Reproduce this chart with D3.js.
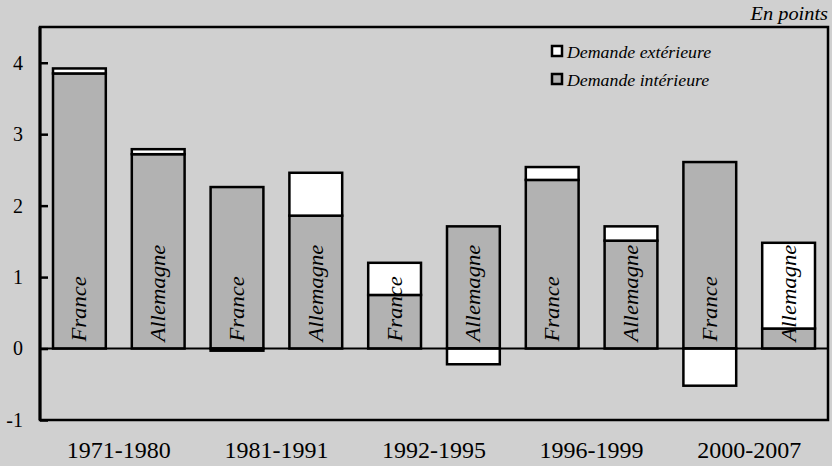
<!DOCTYPE html>
<html><head><meta charset="utf-8">
<script src="https://cdn.jsdelivr.net/npm/d3@7"></script>
<style>
body{margin:0;background:#d0d0d0;}
svg{display:block;}
text{font-family:"Liberation Serif","Times New Roman",serif;fill:#000;}
</style></head>
<body><div id="chart"></div>
<script>
const periods = ["1971-1980","1981-1991","1992-1995","1996-1999","2000-2007"];
const countries = ["France","Allemagne","France","Allemagne","France","Allemagne","France","Allemagne","France","Allemagne"];
const interieure = [3.85, 2.72, 2.26, 1.86, 0.75, 1.71, 2.36, 1.51, 2.61, 0.28];
const exterieure = [0.07, 0.07, -0.03, 0.60, 0.45, -0.22, 0.18, 0.20, -0.52, 1.20];
const yTicks = [-1, 0, 1, 2, 3, 4];
const legendLabels = ["Demande extérieure", "Demande intérieure"];
const unitLabel = "En points";

const W = 832, H = 466;
const m = {left:40, top:27, right:4, bottom:46};
const svg = d3.select("#chart").append("svg").attr("width", W).attr("height", H);
svg.append("rect").attr("width", W).attr("height", H).attr("fill", "#d0d0d0");

const idx = d3.range(countries.length);
const x = d3.scaleBand().domain(idx).range([m.left, W - m.right]).paddingInner(0.33).paddingOuter(0.165);
const y = d3.scaleLinear().domain([-1, 4.5]).range([H - m.bottom, m.top]);

const GREY = "#b2b2b2";
// frame
svg.append("rect").attr("x", m.left).attr("y", m.top)
  .attr("width", W - m.right - m.left).attr("height", y(-1) - m.top)
  .attr("fill", "none").attr("stroke", "#000").attr("stroke-width", 2.5);

// bars
const g = svg.append("g");
idx.forEach(i => {
  const vi = interieure[i], ve = exterieure[i];
  const i0 = 0, i1 = vi;
  g.append("rect").attr("x", x(i)).attr("width", x.bandwidth())
    .attr("y", y(Math.max(i0, i1))).attr("height", Math.abs(y(i0) - y(i1)))
    .attr("fill", GREY).attr("stroke", "#000").attr("stroke-width", 2.5);
  let e0, e1;
  if (ve >= 0) { e0 = vi; e1 = vi + ve; } else { e0 = 0; e1 = ve; }
  g.append("rect").attr("x", x(i)).attr("width", x.bandwidth())
    .attr("y", y(Math.max(e0, e1))).attr("height", Math.abs(y(e0) - y(e1)))
    .attr("fill", "#fff").attr("stroke", "#000").attr("stroke-width", 2.5);
});

// zero line
svg.append("line").attr("x1", m.left).attr("x2", W - m.right)
  .attr("y1", y(0)).attr("y2", y(0)).attr("stroke", "#000").attr("stroke-width", 2);

// country labels
idx.forEach(i => {
  const cx = x(i) + x.bandwidth() / 2;
  svg.append("text")
    .attr("transform", `translate(${cx + 7},${y(0) - 7}) rotate(-90) scale(1.08,1)`)
    .attr("font-style", "italic").attr("font-size", 21)
    .text(countries[i]);
});

// y axis
const yAxis = d3.axisLeft(y).tickValues(yTicks).tickSize(-8).tickPadding(17).tickFormat(d => String(d));
const ya = svg.append("g").attr("transform", `translate(${m.left},0)`).call(yAxis);
ya.select(".domain").remove();
ya.selectAll(".tick line").attr("stroke", "#000").attr("stroke-width", 2.5);
ya.selectAll(".tick text").attr("font-size", 20).attr("font-family", "Liberation Serif").attr("fill", "#000");
svg.append("line").attr("x1", m.left).attr("x2", m.left).attr("y1", m.top).attr("y2", y(-1))
  .attr("stroke", "#000").attr("stroke-width", 3);

// period labels
periods.forEach((p, k) => {
  const cx = (x(2*k) + x(2*k+1) + x.bandwidth()) / 2;
  svg.append("text").attr("x", cx).attr("y", 458).attr("text-anchor", "middle")
    .attr("font-size", 24).text(p);
});

// unit label
svg.append("text").attr("transform", `translate(${W - 4},20) scale(1.1,1)`).attr("text-anchor", "end")
  .attr("font-style", "italic").attr("font-size", 18.5).text(unitLabel);

// legend
const legFill = ["#fff", GREY];
legendLabels.forEach((l, k) => {
  const ly = 46 + k * 28;
  svg.append("rect").attr("x", 552).attr("y", ly).attr("width", 10).attr("height", 10)
    .attr("fill", legFill[k]).attr("stroke", "#000").attr("stroke-width", 2.5);
  svg.append("text").attr("transform", `translate(567,${ly + 11.5}) scale(1.08,1)`).attr("font-style", "italic")
    .attr("font-size", 16.5).text(l);
});
</script></body></html>
